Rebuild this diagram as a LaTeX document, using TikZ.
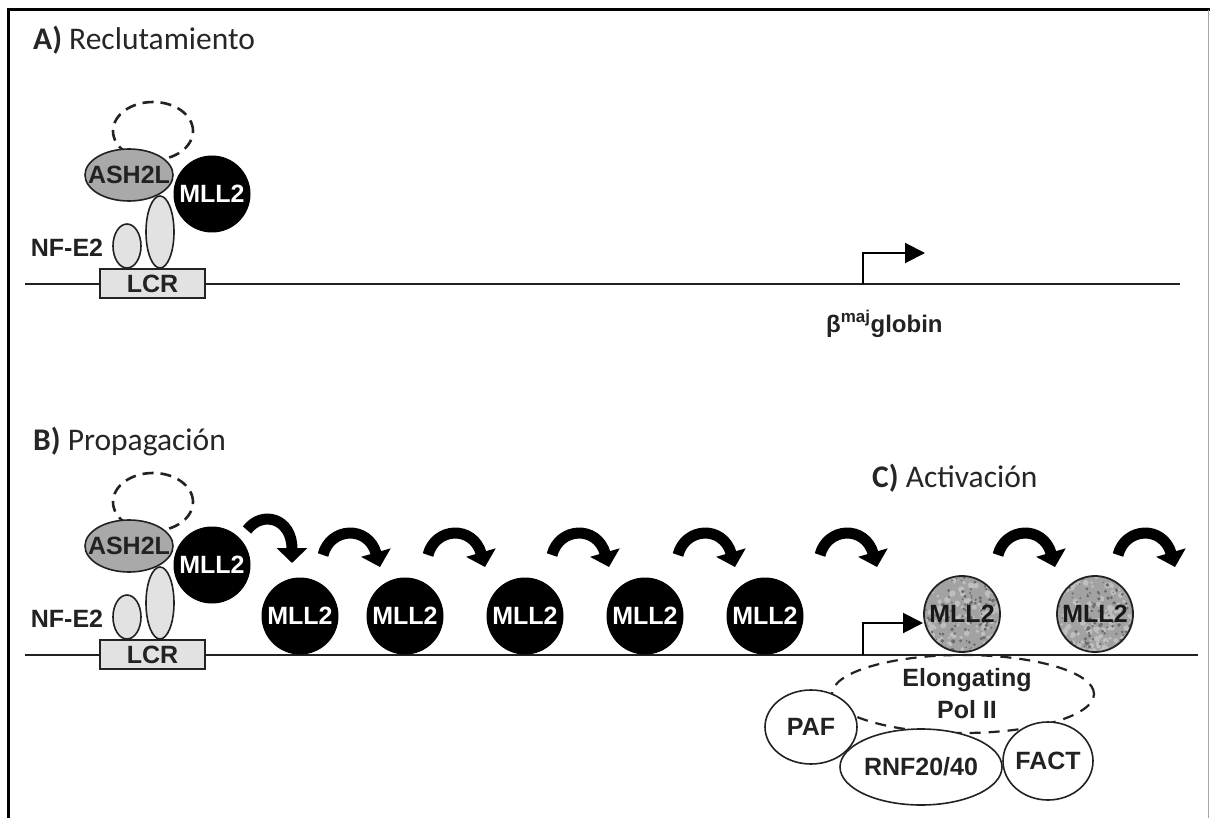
\documentclass[tikz,border=0pt]{standalone}
\usepackage{fontspec}
\setmainfont{Carlito}
\newfontfamily\arialf{Liberation Sans}
\usetikzlibrary{shapes.geometric,arrows.meta,calc}
\definecolor{bord}{HTML}{222222}
\definecolor{ashg}{HTML}{A9A9A9}
\definecolor{lightg}{HTML}{E2E2E2}
\definecolor{stip}{HTML}{A2A2A2}
\begin{document}
\begin{tikzpicture}[x=1pt,y=-1pt,
  lab/.style={font=\arialf\bfseries\fontsize{25}{25}\selectfont, text=bord, inner sep=0pt},
  ttl/.style={font=\fontsize{31.5}{34}\selectfont, anchor=base west, inner sep=0pt, text=black!85},
  shp/.style={draw=bord, line width=1.6pt, inner sep=0pt, outer sep=0pt},
  ell/.style={shp, ellipse},
  blackc/.style={circle, fill=black, draw=black, line width=1pt, minimum size=76pt, inner sep=0pt},
  stipc/.style={circle, fill=stip, minimum size=76pt, inner sep=0pt},
  dashring/.style={ellipse, draw=bord, line width=2.6pt, dash pattern=on 11pt off 7pt, inner sep=0pt},
  dna/.style={draw=bord, line width=2pt},
  prom/.style={draw=black, line width=2pt, -{Triangle[width=20pt,length=20pt]}},
  hop/.style={draw=black, line width=11pt, -{Triangle[width=30pt,length=15pt]}},
  hoppic/.pic={\draw[hop] (-27,22) .. controls (-20,-6) and (18,-8) .. (30,34);}
]
\useasboundingbox (0,0) rectangle (1210,818);
% frame
\draw[line width=3pt, black] (8,818) -- (8,10) -- (1210,10);
\draw[line width=1pt, gray!70] (1208.5,10) -- (1208.5,818);

% ---------------- A ----------------
\node[ttl] (tA) at (33,50) {\textbf{A)} Reclutamiento};
\coordinate (lA0) at (25,284);
\coordinate (lA1) at (1180,284);
\draw[dna] (lA0) -- (lA1);
\node[dashring, minimum width=80pt, minimum height=58pt] (dA) at (153,131) {};
\node[blackc] (mA) at (212,194) {};
\node[ell, fill=ashg, minimum width=88pt, minimum height=52pt] (aA) at (129,175) {};
\node[ell, fill=lightg, minimum width=28pt, minimum height=72pt] (tallA) at (160,232) {};
\node[ell, fill=lightg, minimum width=28pt, minimum height=44pt] (smA) at (127,246) {};
\node[shp, rectangle, fill=lightg, minimum width=105pt, minimum height=29pt] (lcrA) at (152.5,283.5) {};
\node[lab] at (aA.center) {ASH2L};
\node[lab, text=white] at (mA.center) {MLL2};
\node[lab] at (lcrA.center) {LCR};
\node[lab] (nfA) at (67,248) {NF-E2};
\coordinate (pA0) at (863,284);
\coordinate (pA1) at (925,253);
\draw[prom] (pA0) |- (pA1);
\node[anchor=base west, inner sep=0pt, text=bord, font=\arialf\bfseries\fontsize{24}{24}\selectfont] (gl) at (826,332) {β\textsuperscript{\fontsize{17}{17}\selectfont maj}globin};

% ---------------- B ----------------
\node[ttl] (tB) at (33,450) {\textbf{B)} Propagación};
\coordinate (lB0) at (25,655);
\coordinate (lB1) at (1198,655);
\draw[dna] (lB0) -- (lB1);
\node[dashring, minimum width=80pt, minimum height=58pt] (dB) at (153,502) {};
\node[blackc] (mB) at (212,565) {};
\node[ell, fill=ashg, minimum width=88pt, minimum height=52pt] (aB) at (129,546) {};
\node[ell, fill=lightg, minimum width=28pt, minimum height=72pt] (tallB) at (160,603) {};
\node[ell, fill=lightg, minimum width=28pt, minimum height=44pt] (smB) at (127,617) {};
\node[shp, rectangle, fill=lightg, minimum width=105pt, minimum height=29pt] (lcrB) at (152.5,654.5) {};
\node[lab] at (aB.center) {ASH2L};
\node[lab, text=white] at (mB.center) {MLL2};
\node[lab] at (lcrB.center) {LCR};
\node[lab] (nfB) at (67,619) {NF-E2};

% first hop arrow
\draw[hop] (247,530) .. controls (262,510) and (292,518) .. (292,563);
% hop arrows
\foreach \c in {350,455,579,705,847,1025,1145} \pic at (\c,533) {hoppic};

% propagated MLL2
\foreach \x [count=\i] in {300,405,525,645,765} {
  \node[blackc] (k\i) at (\x,616) {};
  \node[lab, text=white] at (k\i.center) {MLL2};
}

% ---------------- C ----------------
\node[ttl] (tC) at (872,487) {\textbf{C)} Activación};
\coordinate (pB0) at (863,655);
\coordinate (pB1) at (923,623);
\draw[prom] (pB0) |- (pB1);
\pgfmathsetseed{7}
\foreach \x/\nm in {962/s1,1095/s2} {
  \node[stipc] (\nm) at (\x,614) {};
  \begin{scope}
    \clip (\nm.center) circle [radius=38];
    \foreach \j in {1,...,140} {
      \fill[gray!50] ($(\nm.center)+({rnd*80-40},{rnd*80-40})$) circle [radius={1+rnd*2.2}];
    }
    \foreach \j in {1,...,120} {
      \fill[gray!85!black] ($(\nm.center)+({rnd*80-40},{rnd*80-40})$) circle [radius={0.7+rnd*1.3}];
    }
  \end{scope}
  \draw[bord, line width=1.8pt] (\nm.center) circle [radius=38];
  \node[lab, text=black!90] at (\nm.center) {MLL2};
}

\node[ellipse, draw=bord, line width=2.2pt, dash pattern=on 11pt off 8pt, minimum width=262pt, minimum height=78pt, inner sep=0pt] (pol) at (963,694) {};
\node[ell, fill=white, minimum width=92pt, minimum height=74pt] (paf) at (811,727) {};
\node[ell, fill=white, minimum width=162pt, minimum height=76pt] (rnf) at (921,767) {};
\node[ell, fill=white, minimum width=90pt, minimum height=78pt] (fact) at (1048,761) {};
\node[lab] at (967,680) {Elongating};
\node[lab] at (967,710) {Pol II};
\node[lab] at (paf.center) {PAF};
\node[lab] at (rnf.center) {RNF20/40};
\node[lab] at (fact.center) {FACT};
\end{tikzpicture}
\end{document}
